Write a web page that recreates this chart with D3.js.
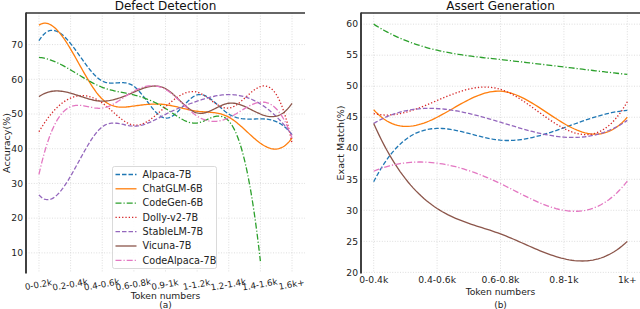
<!DOCTYPE html>
<html>
<head>
<meta charset="utf-8">
<script src="https://cdn.jsdelivr.net/npm/d3@7"></script>
<style>
    body { margin: 0; background: #fff; }
    svg { display: block; font-family: "DejaVu Sans", sans-serif; }
</style>
</head>
<body>
<svg id="chart" width="640" height="309"></svg>
<script>
// Categories (token number bins)
const defectCats = ["0-0.2k", "0.2-0.4k", "0.4-0.6k", "0.6-0.8k", "0.9-1k", "1-1.2k", "1.2-1.4k", "1.4-1.6k", "1.6k+"];
const assertCats = ["0-0.4k", "0.4-0.6k", "0.6-0.8k", "0.8-1k", "1k+"];
const models = ["Alpaca-7B", "ChatGLM-6B", "CodeGen-6B", "Dolly-v2-7B", "StableLM-7B", "Vicuna-7B", "CodeAlpaca-7B"];

// Defect Detection accuracy (%), one array per model
const defectAlpaca     = [71.1, 70.3, 59.5, 58.0, 48.8, 55.5, 50.0, 48.6, 44.0];
const defectChatGLM    = [75.6, 68.7, 54.3, 52.3, 52.7, 50.8, 49.1, 41.6, 43.1];
const defectCodeGen    = [66.3, 62.7, 57.7, 55.5, 51.6, 47.4, 48.0, 7.6];
const defectDolly      = [44.9, 54.6, 53.2, 46.8, 52.1, 56.3, 51.7, 57.9, 41.6];
const defectStableLM   = [26.7, 32.1, 46.3, 46.5, 49.9, 53.7, 55.6, 52.9, 44.0];
const defectVicuna     = [55.0, 56.0, 53.7, 56.3, 57.3, 50.3, 53.1, 50.0, 53.1];
const defectCodeAlpaca = [32.6, 52.1, 51.7, 56.6, 57.1, 49.4, 48.9, 53.4, 43.1];

// Assert Generation exact match (%)
const assertAlpaca     = [34.6, 43.2, 41.3, 43.3, 46.1];
const assertChatGLM    = [46.2, 45.0, 49.2, 44.0, 45.0];
const assertCodeGen    = [60.0, 55.8, 54.3, 53.1, 51.9];
const assertDolly      = [45.6, 47.7, 49.5, 43.2, 47.5];
const assertStableLM   = [44.0, 46.4, 44.2, 41.8, 44.5];
const assertVicuna     = [44.0, 30.3, 26.2, 22.2, 25.0];
const assertCodeAlpaca = [36.3, 37.6, 34.3, 30.0, 34.7];

const defectTicks = [10, 20, 30, 40, 50, 60, 70];
const assertTicks = [20, 25, 30, 35, 40, 45, 50, 55, 60];

const defectSeries = [defectAlpaca, defectChatGLM, defectCodeGen, defectDolly, defectStableLM, defectVicuna, defectCodeAlpaca];
const assertSeries = [assertAlpaca, assertChatGLM, assertCodeGen, assertDolly, assertStableLM, assertVicuna, assertCodeAlpaca];

// Styling per model (matplotlib tab10 + line styles)
const colors = ["#1f77b4", "#ff7f0e", "#2ca02c", "#d62728", "#9467bd", "#8c564b", "#e377c2"];
const dashes = ["4.5,2", null, "6,2,1.2,2", "1.3,2", "4.5,2", null, "6,2,1.2,2"];

// Cubic spline with not-a-knot ends (like scipy make_interp_spline)
function curveNotAKnot(context) {
    let pts;
    return {
        areaStart() {}, areaEnd() {},
        lineStart() { pts = []; },
        point(x, y) { pts.push([+x, +y]); },
        lineEnd() {
            const n = pts.length;
            const x = pts.map(p => p[0]), y = pts.map(p => p[1]);
            if (n < 4) {
                pts.forEach((p, i) => i ? context.lineTo(p[0], p[1]) : context.moveTo(p[0], p[1]));
                return;
            }
            const h = d3.range(n - 1).map(i => x[i + 1] - x[i]);
            const A = d3.range(n).map(() => new Array(n).fill(0));
            const b = new Array(n).fill(0);
            A[0][0] = h[1]; A[0][1] = -(h[0] + h[1]); A[0][2] = h[0];
            for (let i = 1; i < n - 1; i++) {
                A[i][i - 1] = h[i - 1];
                A[i][i] = 2 * (h[i - 1] + h[i]);
                A[i][i + 1] = h[i];
                b[i] = 6 * ((y[i + 1] - y[i]) / h[i] - (y[i] - y[i - 1]) / h[i - 1]);
            }
            A[n - 1][n - 3] = h[n - 2]; A[n - 1][n - 2] = -(h[n - 3] + h[n - 2]); A[n - 1][n - 1] = h[n - 3];
            const M = solve(A, b);
            context.moveTo(x[0], y[0]);
            for (let i = 0; i < n - 1; i++) {
                for (let s = 1; s <= 24; s++) {
                    const t = x[i] + h[i] * s / 24;
                    const a = x[i + 1] - t, c = t - x[i];
                    const v = M[i] * a * a * a / (6 * h[i]) + M[i + 1] * c * c * c / (6 * h[i])
                        + (y[i] / h[i] - M[i] * h[i] / 6) * a + (y[i + 1] / h[i] - M[i + 1] * h[i] / 6) * c;
                    context.lineTo(t, v);
                }
            }
        }
    };
}

// Gaussian elimination with partial pivoting
function solve(A, b) {
    const n = b.length;
    A = A.map(r => r.slice()); b = b.slice();
    for (let k = 0; k < n; k++) {
        let p = k;
        for (let i = k + 1; i < n; i++) if (Math.abs(A[i][k]) > Math.abs(A[p][k])) p = i;
        [A[k], A[p]] = [A[p], A[k]]; [b[k], b[p]] = [b[p], b[k]];
        for (let i = k + 1; i < n; i++) {
            const f = A[i][k] / A[k][k];
            for (let j = k; j < n; j++) A[i][j] -= f * A[k][j];
            b[i] -= f * b[k];
        }
    }
    const m = new Array(n).fill(0);
    for (let i = n - 1; i >= 0; i--) {
        let s = b[i];
        for (let j = i + 1; j < n; j++) s -= A[i][j] * m[j];
        m[i] = s / A[i][i];
    }
    return m;
}

const svg = d3.select("#chart");

function drawPanel(opt) {
    const x = d3.scalePoint().domain(opt.cats).range([opt.left, opt.right]).padding(opt.pad);
    const y = d3.scaleLinear().domain(opt.yDomain).range([273, 13]);
    const g = svg.append("g");

    // Grid (faint dotted)
    g.selectAll(".hgrid").data(opt.ticks).join("line")
        .attr("x1", opt.left).attr("x2", opt.right)
        .attr("y1", d => y(d)).attr("y2", d => y(d))
        .attr("stroke", "#d6d6d6").attr("stroke-width", 0.8).attr("stroke-dasharray", "1,1.6");
    g.selectAll(".vgrid").data(opt.cats).join("line")
        .attr("x1", d => x(d)).attr("x2", d => x(d))
        .attr("y1", 13).attr("y2", 273)
        .attr("stroke", "#d6d6d6").attr("stroke-width", 0.8).attr("stroke-dasharray", "1,1.6");

    // Series
    const line = d3.line()
        .x((d, i) => x(opt.cats[i]))
        .y(d => y(d))
        .curve(curveNotAKnot);
    opt.series.forEach((vals, k) => {
        g.append("path")
            .attr("d", line(vals))
            .attr("fill", "none")
            .attr("stroke", colors[k])
            .attr("stroke-width", 1.3)
            .attr("stroke-dasharray", dashes[k]);
    });

    // Spines (left and top)
    g.append("line").attr("x1", opt.left).attr("x2", opt.left).attr("y1", 12.5).attr("y2", 273.5)
        .attr("stroke", "#111").attr("stroke-width", 1.6);
    g.append("line").attr("x1", opt.left).attr("x2", opt.right).attr("y1", 13).attr("y2", 13)
        .attr("stroke", "#333").attr("stroke-width", 1.4);

    // Y tick labels
    g.selectAll(".ytick").data(opt.ticks).join("text")
        .attr("x", opt.left - 3).attr("y", d => y(d)).attr("dy", "0.35em")
        .attr("text-anchor", "end").style("font-size", "9.2px").attr("fill", "#222")
        .text(d => d);

    // Title and axis labels
    const cx = (opt.left + opt.right) / 2;
    g.append("text").attr("x", cx).attr("y", 10).attr("text-anchor", "middle")
        .style("font-size", "12px").attr("fill", "#111").text(opt.title);
    g.append("text").attr("transform", `translate(${opt.ylabelX},143) rotate(-90)`)
        .attr("text-anchor", "middle").style("font-size", "9.5px").attr("fill", "#222").text(opt.ylabel);
    g.append("text").attr("x", cx).attr("y", opt.xlabelY).attr("text-anchor", "middle")
        .style("font-size", "9.2px").attr("fill", "#222").text("Token numbers");
    g.append("text").attr("x", cx).attr("y", 308).attr("text-anchor", "middle")
        .style("font-size", "9px").attr("fill", "#222").text(opt.tag);

    return { g, x, y };
}

// (a) Defect Detection
const a = drawPanel({
    cats: defectCats, left: 26, right: 305, pad: 0.41,
    yDomain: [4.2, 79.1], ticks: defectTicks, series: defectSeries,
    title: "Defect Detection", ylabel: "Accuracy(%)", ylabelX: 9.5,
    xlabelY: 298.5, tag: "(a)"
});
a.g.selectAll(".xtick").data(defectCats).join("text")
    .attr("transform", d => `translate(${a.x(d)},287.5) rotate(-10)`)
    .attr("text-anchor", "middle").style("font-size", "8.7px").attr("fill", "#222")
    .text(d => d);

// Legend
const legend = a.g.append("g").attr("transform", "translate(112.5,166.5)");
legend.append("rect").attr("width", 104).attr("height", 102).attr("rx", 2)
    .attr("fill", "#fff").attr("fill-opacity", 0.85).attr("stroke", "#d0d0d0").attr("stroke-width", 0.8);
models.forEach((m, k) => {
    const ly = 8 + k * 14.3;
    legend.append("line").attr("x1", 3).attr("x2", 24).attr("y1", ly).attr("y2", ly)
        .attr("stroke", colors[k]).attr("stroke-width", 1.3).attr("stroke-dasharray", dashes[k]);
    legend.append("text").attr("x", 30).attr("y", ly).attr("dy", "0.35em")
        .style("font-size", "9.7px").attr("fill", "#222").text(m);
});

// (b) Assert Generation
const b = drawPanel({
    cats: assertCats, left: 361, right: 640, pad: 0.2,
    yDomain: [19.9, 61.8], ticks: assertTicks, series: assertSeries,
    title: "Assert Generation", ylabel: "Exact Match(%)", ylabelX: 344,
    xlabelY: 295, tag: "(b)"
});
b.g.selectAll(".xtick").data(assertCats).join("text")
    .attr("x", d => b.x(d)).attr("y", 283)
    .attr("text-anchor", "middle").style("font-size", "9.2px").attr("fill", "#222")
    .text(d => d);
</script>
</body>
</html>
